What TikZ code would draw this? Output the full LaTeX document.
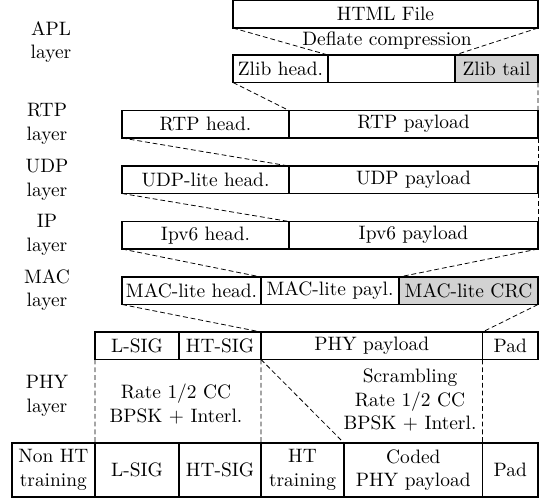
\documentclass[tikz,border=0pt]{standalone}
\usetikzlibrary{positioning}
\begin{document}
\begin{tikzpicture}[x=0.515pt, y=-0.515pt,
  cell/.style={draw, line width=0.9pt, inner sep=0pt, outer sep=0pt, anchor=north west,
    minimum width=#1*0.515pt, minimum height=27.5*0.515pt, align=center},
  tall/.style={minimum height=54*0.515pt},
  greycell/.style={fill=gray!35},
  link/.style={dash pattern=on 2.5pt off 1.5pt},
  lbl/.style={align=center, inner sep=0pt}]
\useasboundingbox (0,0) rectangle (540,498);

% Layer names
\node[lbl] (apl) at (51,42) {APL\\layer};
\node[lbl] (rtp) at (47,124) {RTP\\layer};
\node[lbl] (udp) at (47,180) {UDP\\layer};
\node[lbl] (ip) at (47,235) {IP\\layer};
\node[lbl] (mac) at (47,290) {MAC\\layer};
\node[lbl] (phy) at (47,396) {PHY\\layer};

% APL layer
\node[cell=305] (html) at (233,0.5) {HTML File};
\node[lbl] (deflate) at (387,41) {Deflate compression};
\node[cell=95] (zhead) at (233,55) {Zlib head.};
\node[cell=127, right=0pt of zhead] (zbody) {};
\node[cell=83, greycell, right=0pt of zbody] (ztail) {Zlib tail};

% RTP, UDP and IP layers
\node[cell=167] (rtphead) at (122,110.5) {RTP head.};
\node[cell=249, right=0pt of rtphead] (rtppay) {RTP payload};
\node[cell=167] (udphead) at (122,166) {UDP-lite head.};
\node[cell=249, right=0pt of udphead] (udppay) {UDP payload};
\node[cell=167] (iphead) at (122,221.5) {Ipv6 head.};
\node[cell=249, right=0pt of iphead] (ippay) {Ipv6 payload};

% MAC layer
\node[cell=139] (machead) at (122,277) {MAC-lite head.};
\node[cell=138, right=0pt of machead] (macpay) {MAC-lite payl.};
\node[cell=139, greycell, right=0pt of macpay] (maccrc) {MAC-lite CRC};

% PHY layer
\node[cell=84] (lsig) at (95,332) {L-SIG};
\node[cell=82, right=0pt of lsig] (htsig) {HT-SIG};
\node[cell=221.5, right=0pt of htsig] (phypay) {PHY payload};
\node[cell=55.5, right=0pt of phypay] (pad) {Pad};

\node[lbl] (coding) at (176,404) {Rate $1/2$ CC\\BPSK $+$ Interl.};
\node[lbl] (scramb) at (410,400) {Scrambling\\Rate $1/2$ CC\\BPSK $+$ Interl.};

\node[cell=83.3, tall] (nonht) at (11.7,443) {Non HT\\training};
\node[cell=84, tall, right=0pt of nonht] (lsigc) {L-SIG};
\node[cell=82, tall, right=0pt of lsigc] (htsigc) {HT-SIG};
\node[cell=83, tall, right=0pt of htsigc] (httrain) {HT\\training};
\node[cell=138.5, tall, right=0pt of httrain] (coded) {Coded\\PHY payload};
\node[cell=55.5, tall, right=0pt of coded] (padc) {Pad};

% Encapsulation lines
\draw[link] (html.south west) -- (zbody.north west);
\draw[link] (html.south east) -- (ztail.north west);
\draw[link] (zhead.south west) -- (rtppay.north west);
\draw[link] (ztail.south east) -- (rtppay.north east);
\draw[link] (rtphead.south west) -- (udppay.north west);
\draw[link] (rtppay.south east) -- (udppay.north east);
\draw[link] (udphead.south west) -- (ippay.north west);
\draw[link] (udppay.south east) -- (ippay.north east);
\draw[link] (iphead.south west) -- (macpay.north west);
\draw[link] (ippay.south east) -- (maccrc.north west);
\draw[link] (machead.south west) -- (phypay.north west);
\draw[link] (maccrc.south east) -- (pad.north west);
\draw[link] (lsig.south west) -- (lsigc.north west);
\draw[link] (htsig.south east) -- (htsigc.north east);
\draw[link] (phypay.south west) -- (coded.north west);
\draw[link] (pad.south west) -- (padc.north west);
\end{tikzpicture}
\end{document}
